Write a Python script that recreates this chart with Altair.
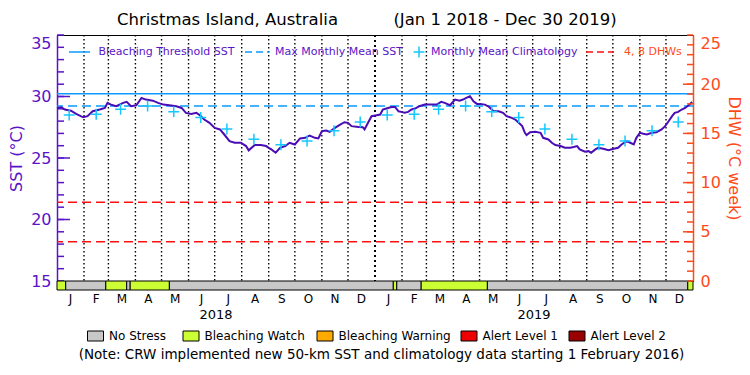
import altair as alt
import pandas as pd

# ---------------- data ----------------
sst_day = [0, 5, 9, 16, 22, 30, 35, 41, 49, 55, 58, 62, 68, 76, 80, 85, 91, 97, 102, 110,
           116, 122, 129, 137, 143, 148, 154, 160, 164, 169, 175, 181, 187, 192, 198, 204, 211, 217, 220, 227,
           234, 240, 243, 246, 251, 256, 262, 267, 273, 279, 285, 290, 296, 300, 304, 309, 313, 319, 325, 330,
           334, 338, 346, 351, 353, 357, 361, 367, 371, 374, 378, 384, 388, 392, 395, 399, 403, 407, 411, 416,
           422, 430, 436, 439, 441, 445, 451, 457, 462, 466, 471, 474, 478, 482, 486, 491, 495, 499, 501, 507,
           512, 516, 522, 526, 530, 534, 537, 539, 543, 549, 555, 558, 564, 568, 572, 578, 583, 589, 593, 597,
           600, 606, 610, 613, 618, 621, 627, 633, 639, 644, 648, 654, 658, 662, 665, 669, 673, 677, 683, 688,
           694, 698, 702, 706, 709, 713, 717, 721, 725, 729]
sst_val = [29.07, 29.12, 28.94, 28.85, 28.58, 28.31, 28.40, 28.80, 28.94, 29.07, 29.48, 29.34, 29.21, 29.48, 29.56, 29.21, 29.29, 29.88, 29.75, 29.66,
           29.48, 29.34, 29.29, 29.21, 29.07, 28.67, 28.58, 28.67, 28.48, 28.13, 27.86, 27.45, 27.32, 26.91, 26.37, 26.24, 26.24, 25.97, 25.62, 26.05,
           26.05, 25.97, 25.83, 25.70, 25.43, 25.83, 25.97, 26.24, 26.10, 26.59, 26.64, 26.83, 26.64, 26.59, 27.18, 27.24, 27.13, 27.45, 27.72, 27.91,
           27.86, 27.59, 27.53, 27.50, 27.32, 27.86, 28.40, 28.48, 28.53, 28.94, 29.02, 29.15, 29.15, 28.80, 28.75, 28.69, 28.75, 28.94, 29.02, 29.21,
           29.34, 29.34, 29.34, 29.48, 29.56, 29.48, 29.29, 29.75, 29.66, 29.75, 29.93, 30.02, 29.61, 29.40, 29.40, 29.34, 29.21, 28.94, 28.80, 28.80,
           28.67, 28.40, 28.26, 28.13, 27.86, 27.59, 27.05, 26.86, 27.10, 27.13, 27.05, 26.64, 26.51, 26.24, 26.05, 25.97, 25.83, 25.83, 25.89, 25.97,
           25.70, 25.51, 25.56, 25.43, 25.70, 25.83, 25.75, 25.64, 25.75, 25.83, 26.10, 26.37, 26.24, 26.10, 26.64, 27.05, 26.97, 26.91, 27.05, 27.10,
           27.32, 27.59, 27.99, 28.40, 28.67, 28.75, 28.94, 29.07, 29.29, 29.56]
clim_vals = [28.50, 28.56, 28.97, 29.23, 28.77, 28.29, 27.35, 26.52, 26.07, 26.39, 27.22, 27.92]
mmm = 29.23
threshold = 30.23
dhw_levels = [4, 8]
stress_start = [0, 10, 56, 80, 84, 129, 386, 390, 418, 494, 724]
stress_end = [10, 56, 80, 84, 129, 386, 390, 418, 494, 724, 730]
stress_level = ["Bleaching Watch", "No Stress", "Bleaching Watch", "No Stress", "Bleaching Watch", "No Stress",
                "Bleaching Watch", "No Stress", "Bleaching Watch", "No Stress", "Bleaching Watch"]
stress_names = ["No Stress", "Bleaching Watch", "Bleaching Warning", "Alert Level 1", "Alert Level 2"]
stress_colors = ["#c8c8c8", "#ccff33", "#ffaa00", "#ee0000", "#990000"]
month_letters = ["J", "F", "M", "A", "M", "J", "J", "A", "S", "O", "N", "D"]
years = [2018, 2019]
sst_ticks = list(range(15, 36))
sst_major = [20, 25, 30]
dhw_ticks = list(range(0, 26))
dhw_major = [5, 10, 15, 20]

# ---------------- styling ----------------
W, H = 636, 246
FONT = "DejaVu Sans"
PURPLE = "#5a14c8"
LINE = "#4a0cb4"
LBLUE = "#0a9bff"
CYAN = "#14c8ff"
RED = "#ff1010"
ORANGE = "#ff4a1a"
CROSS = "M-1,0L1,0M0,-1L0,1"

start = pd.Timestamp("2018-01-01")
m_start, m_mid, m_lab, clim_day, clim_v = [], [], [], [], []
for y in years:
    for m in range(1, 13):
        d0 = pd.Timestamp(year=y, month=m, day=1)
        dim = d0.days_in_month
        off = (d0 - start).days
        m_start.append(off)
        m_mid.append(off + dim / 2)
        m_lab.append(month_letters[m - 1])
        clim_day.append((pd.Timestamp(year=y, month=m, day=15) - start).days)
        clim_v.append(clim_vals[m - 1])

sst_df = pd.DataFrame({"day": sst_day, "sst": sst_val})
clim_df = pd.DataFrame({"day": clim_day, "sst": clim_v})
grid_df = pd.DataFrame({"day": [d for d in m_start if d not in (0, 365)]})
year_df = pd.DataFrame({"day": [365]})
month_df = pd.DataFrame({"day": m_mid, "lab": m_lab})
yearlab_df = pd.DataFrame({"day": [182.5, 547.5], "lab": [str(y) for y in years]})
stress_df = pd.DataFrame({"day": stress_start, "day2": stress_end, "level": stress_level})
one = pd.DataFrame({"a": [0]})

xs = alt.Scale(domain=[0, 730], nice=False, zero=False)
X = alt.X("day:Q", scale=xs, axis=None)

left_axis = alt.Axis(values=[15, 20, 25, 30, 35], ticks=False, grid=False, domainColor=PURPLE, domainWidth=1.5,
                     labelColor=PURPLE, labelFont=FONT, labelFontSize=16, labelPadding=6, labelFlush=False,
                     labelBaseline={"condition": {"test": "datum.value >= 35", "value": "top"}, "value": "middle"},
                     title="SST (°C)", titleColor=PURPLE, titleFont=FONT, titleFontSize=16,
                     titleFontWeight="normal", titlePadding=6)
right_axis = alt.Axis(orient="right", values=[0, 5, 10, 15, 20, 25], ticks=False, grid=False, domainColor=ORANGE,
                      domainWidth=1.5, labelColor=ORANGE, labelFont=FONT, labelFontSize=16, labelPadding=7,
                      labelFlush=False,
                      labelBaseline={"condition": {"test": "datum.value >= 25", "value": "top"}, "value": "middle"},
                      title="DHW (°C week)", titleColor=ORANGE, titleFont=FONT, titleFontSize=16,
                      titleFontWeight="normal", titlePadding=5)
Y = alt.Y("sst:Q", scale=alt.Scale(domain=[15, 35], nice=False, zero=False), axis=left_axis)
YD = alt.Y("dhw:Q", scale=alt.Scale(domain=[0, 25], nice=False, zero=False), axis=right_axis)

layers = []
layers.append(alt.Chart(grid_df).mark_rule(color="black", strokeDash=[1.4, 2.6], strokeWidth=1.4).encode(x=X))
layers.append(alt.Chart(year_df).mark_rule(color="black", strokeDash=[2, 3], strokeWidth=2).encode(x=X))
layers.append(alt.Chart(pd.DataFrame({"sst": [threshold]})).mark_rule(color=LBLUE, strokeWidth=1.5).encode(y=Y))
layers.append(alt.Chart(pd.DataFrame({"sst": [mmm]})).mark_rule(color=LBLUE, strokeWidth=1.5,
                                                                 strokeDash=[9, 5]).encode(y=Y))
layers.append(alt.Chart(pd.DataFrame({"sst": sst_ticks})).mark_rule(color=PURPLE, strokeWidth=1.5).encode(
    y=Y, x=alt.value(0), x2=alt.value(7)))
layers.append(alt.Chart(pd.DataFrame({"sst": sst_major})).mark_rule(color=PURPLE, strokeWidth=1.5).encode(
    y=Y, x=alt.value(0), x2=alt.value(13)))
layers.append(alt.Chart(sst_df).mark_line(color=LINE, strokeWidth=2).encode(x=X, y=Y))
layers.append(alt.Chart(clim_df).mark_point(shape=CROSS, size=120, filled=False, strokeWidth=1.5,
                                            color=CYAN, opacity=1).encode(x=X, y=Y))
layers.append(alt.Chart(stress_df).mark_rect(stroke="black", strokeWidth=1).encode(
    x=X, x2="day2:Q", y=alt.value(H), y2=alt.value(H + 9),
    color=alt.Color("level:N", scale=alt.Scale(domain=stress_names, range=stress_colors), legend=None)))
layers.append(alt.Chart(month_df).mark_text(font=FONT, fontSize=12, color="black").encode(
    x=X, y=alt.value(H + 18), text="lab:N"))
layers.append(alt.Chart(yearlab_df).mark_text(font=FONT, fontSize=13, color="black").encode(
    x=X, y=alt.value(H + 34), text="lab:N"))

# title
layers.append(alt.Chart(one).mark_text(font=FONT, fontSize=16.5, align="left", color="black").encode(
    x=alt.value(60), y=alt.value(-15), text=alt.value("Christmas Island, Australia")))
layers.append(alt.Chart(one).mark_text(font=FONT, fontSize=16.5, align="center", color="black").encode(
    x=alt.value(448), y=alt.value(-15), text=alt.value("(Jan 1 2018 - Dec 30 2019)")))

# top legend
LY = 17
layers.append(alt.Chart(one).mark_rule(color=LBLUE, strokeWidth=1.5).encode(
    x=alt.value(12), x2=alt.value(33), y=alt.value(LY)))
layers.append(alt.Chart(one).mark_rule(color=LBLUE, strokeWidth=1.5, strokeDash=[7, 4]).encode(
    x=alt.value(188), x2=alt.value(212), y=alt.value(LY)))
layers.append(alt.Chart(one).mark_point(shape=CROSS, size=120, filled=False, strokeWidth=1.5, color=CYAN,
                                        opacity=1).encode(x=alt.value(362), y=alt.value(LY)))
layers.append(alt.Chart(one).mark_rule(color=RED, strokeWidth=1.5, strokeDash=[7, 4]).encode(
    x=alt.value(529), x2=alt.value(557), y=alt.value(LY)))
for tx, txt, col in [(41.5, "Bleaching Threshold SST", PURPLE), (218, "Max Monthly Mean SST", PURPLE),
                     (374, "Monthly Mean Climatology", PURPLE), (567, "4, 8 DHWs", ORANGE)]:
    layers.append(alt.Chart(one).mark_text(font=FONT, fontSize=11, align="left", color=col).encode(
        x=alt.value(tx), y=alt.value(LY), text=alt.value(txt)))

# bottom legend
BY0, BY1, BT = 296, 306, 301
box_x = [30.5, 126, 260, 404, 512]
for bx, name, colr in zip(box_x, stress_names, stress_colors):
    layers.append(alt.Chart(one).mark_rect(fill=colr, stroke="black", strokeWidth=1).encode(
        x=alt.value(bx), x2=alt.value(bx + 16), y=alt.value(BY0), y2=alt.value(BY1)))
    layers.append(alt.Chart(one).mark_text(font=FONT, fontSize=12, align="left", color="black").encode(
        x=alt.value(bx + 21.5), y=alt.value(BT), text=alt.value(name)))
layers.append(alt.Chart(one).mark_text(font=FONT, fontSize=13.5, align="center", color="black").encode(
    x=alt.value(324.5), y=alt.value(320),
    text=alt.value("(Note: CRW implemented new 50-km SST and climatology data starting 1 February 2016)")))

left_group = alt.layer(*layers)

right_layers = [
    alt.Chart(pd.DataFrame({"dhw": dhw_levels})).mark_rule(color=RED, strokeWidth=1.5, strokeDash=[9, 5]).encode(y=YD),
    alt.Chart(pd.DataFrame({"dhw": dhw_ticks})).mark_rule(color=ORANGE, strokeWidth=1.5).encode(
        y=YD, x=alt.value(W), x2=alt.value(W - 6)),
    alt.Chart(pd.DataFrame({"dhw": dhw_major})).mark_rule(color=ORANGE, strokeWidth=1.5).encode(
        y=YD, x=alt.value(W), x2=alt.value(W - 10)),
]
right_group = alt.layer(*right_layers)

chart = alt.layer(left_group, right_group).resolve_scale(y="independent").properties(
    width=W, height=H,
    autosize=alt.AutoSizeParams(type="none"),
    padding={"left": 57, "top": 35, "right": 57, "bottom": 94},
    background="white",
).configure_view(stroke="black", strokeWidth=1)

chart.save("out.html", embed_options={"renderer": "svg", "actions": False})
